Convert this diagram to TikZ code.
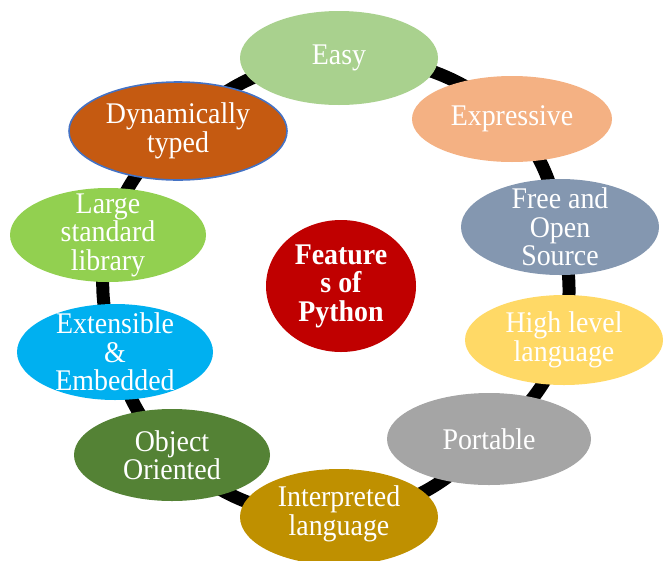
\documentclass[tikz,border=0pt]{standalone}
\usepackage{fontspec}
\setmainfont[FakeStretch=0.93]{Liberation Serif}
\usetikzlibrary{shapes.geometric}
\pgfdeclarelayer{bg}
\pgfsetlayers{bg,main}
\definecolor{cEasy}{HTML}{A9D18E}
\definecolor{cDyn}{HTML}{C55A11}
\definecolor{cDynBorder}{HTML}{4472C4}
\definecolor{cExpr}{HTML}{F4B183}
\definecolor{cFree}{HTML}{8497B0}
\definecolor{cLarge}{HTML}{92D050}
\definecolor{cExt}{HTML}{00B0F0}
\definecolor{cHigh}{HTML}{FFD966}
\definecolor{cPort}{HTML}{A5A5A5}
\definecolor{cObj}{HTML}{548235}
\definecolor{cInt}{HTML}{BF9000}
\definecolor{cFeat}{HTML}{C00000}
\begin{document}
\begin{tikzpicture}[x=1pt,y=-1pt,
  blob/.style 2 args={ellipse, draw=none, inner sep=0pt, outer sep=0pt,
    minimum width=#1pt, minimum height=#2pt},
  lbl/.style={align=center, text=white, inner sep=0pt,
    font=\fontsize{30}{28.5}\selectfont},
  conn/.style={line width=13pt, black, line cap=butt}]
\useasboundingbox (0,0) rectangle (663,560);

\node[blob={198}{94}, fill=cEasy] (easy) at (339,58) {};
\node[blob={218}{98}, fill=cDyn, draw=cDynBorder, line width=1.6pt] (dyn) at (178,131) {};
\node[blob={200}{86}, fill=cExpr] (expr) at (512,119) {};
\node[blob={198}{96}, fill=cFree] (free) at (560,227) {};
\node[blob={196}{94}, fill=cLarge] (large) at (108,235) {};
\node[blob={150}{132}, fill=cFeat] (feat) at (341,286) {};
\node[blob={196}{96}, fill=cExt] (ext) at (115,352) {};
\node[blob={198}{90}, fill=cHigh] (high) at (564,340) {};
\node[blob={204}{92}, fill=cPort] (port) at (489,439) {};
\node[blob={196}{92}, fill=cObj] (obj) at (172,455) {};
\node[blob={198}{96}, fill=cInt] (interp) at (339,517) {};

\node[lbl] (easyT) at (easy) {Easy};
\node[lbl] (dynT) at (dyn) {Dynamically\\typed};
\node[lbl] (exprT) at (expr) {Expressive};
\node[lbl] (freeT) at (free) {Free and\\Open\\Source};
\node[lbl] (largeT) at (large) {Large\\standard\\library};
\node[lbl, font=\fontsize{30}{28.5}\selectfont\bfseries] (featT) at (feat) {Feature\\s of\\Python};
\node[lbl] (extT) at (ext) {Extensible\\\&\\Embedded};
\node[lbl] (highT) at (high) {High level\\language};
\node[lbl] (portT) at (port) {Portable};
\node[lbl] (objT) at (obj) {Object\\Oriented};
\node[lbl] (interpT) at ([yshift=3pt]interp.center) {Interpreted\\language};

\begin{pgfonlayer}{bg}
\draw[conn] (easy.center) to[bend left=20] (expr.center);
\draw[conn] (expr.center) to[bend left=14.6] (free.center);
\draw[conn] (free.center) to[bend left=12] (high.center);
\draw[conn] (high.center) to[bend left=16.2] (port.center);
\draw[conn] (port.center) to[bend left=20] (interp.center);
\draw[conn] (interp.center) to[bend left=20] (obj.center);
\draw[conn] (obj.center) to[bend left=14.4] (ext.center);
\draw[conn] (ext.center) to[bend left=14.3] (large.center);
\draw[conn] (large.center) to[bend left=15.6] (dyn.center);
\draw[conn] (dyn.center) to[bend left=20] (easy.center);
\end{pgfonlayer}
\end{tikzpicture}
\end{document}
